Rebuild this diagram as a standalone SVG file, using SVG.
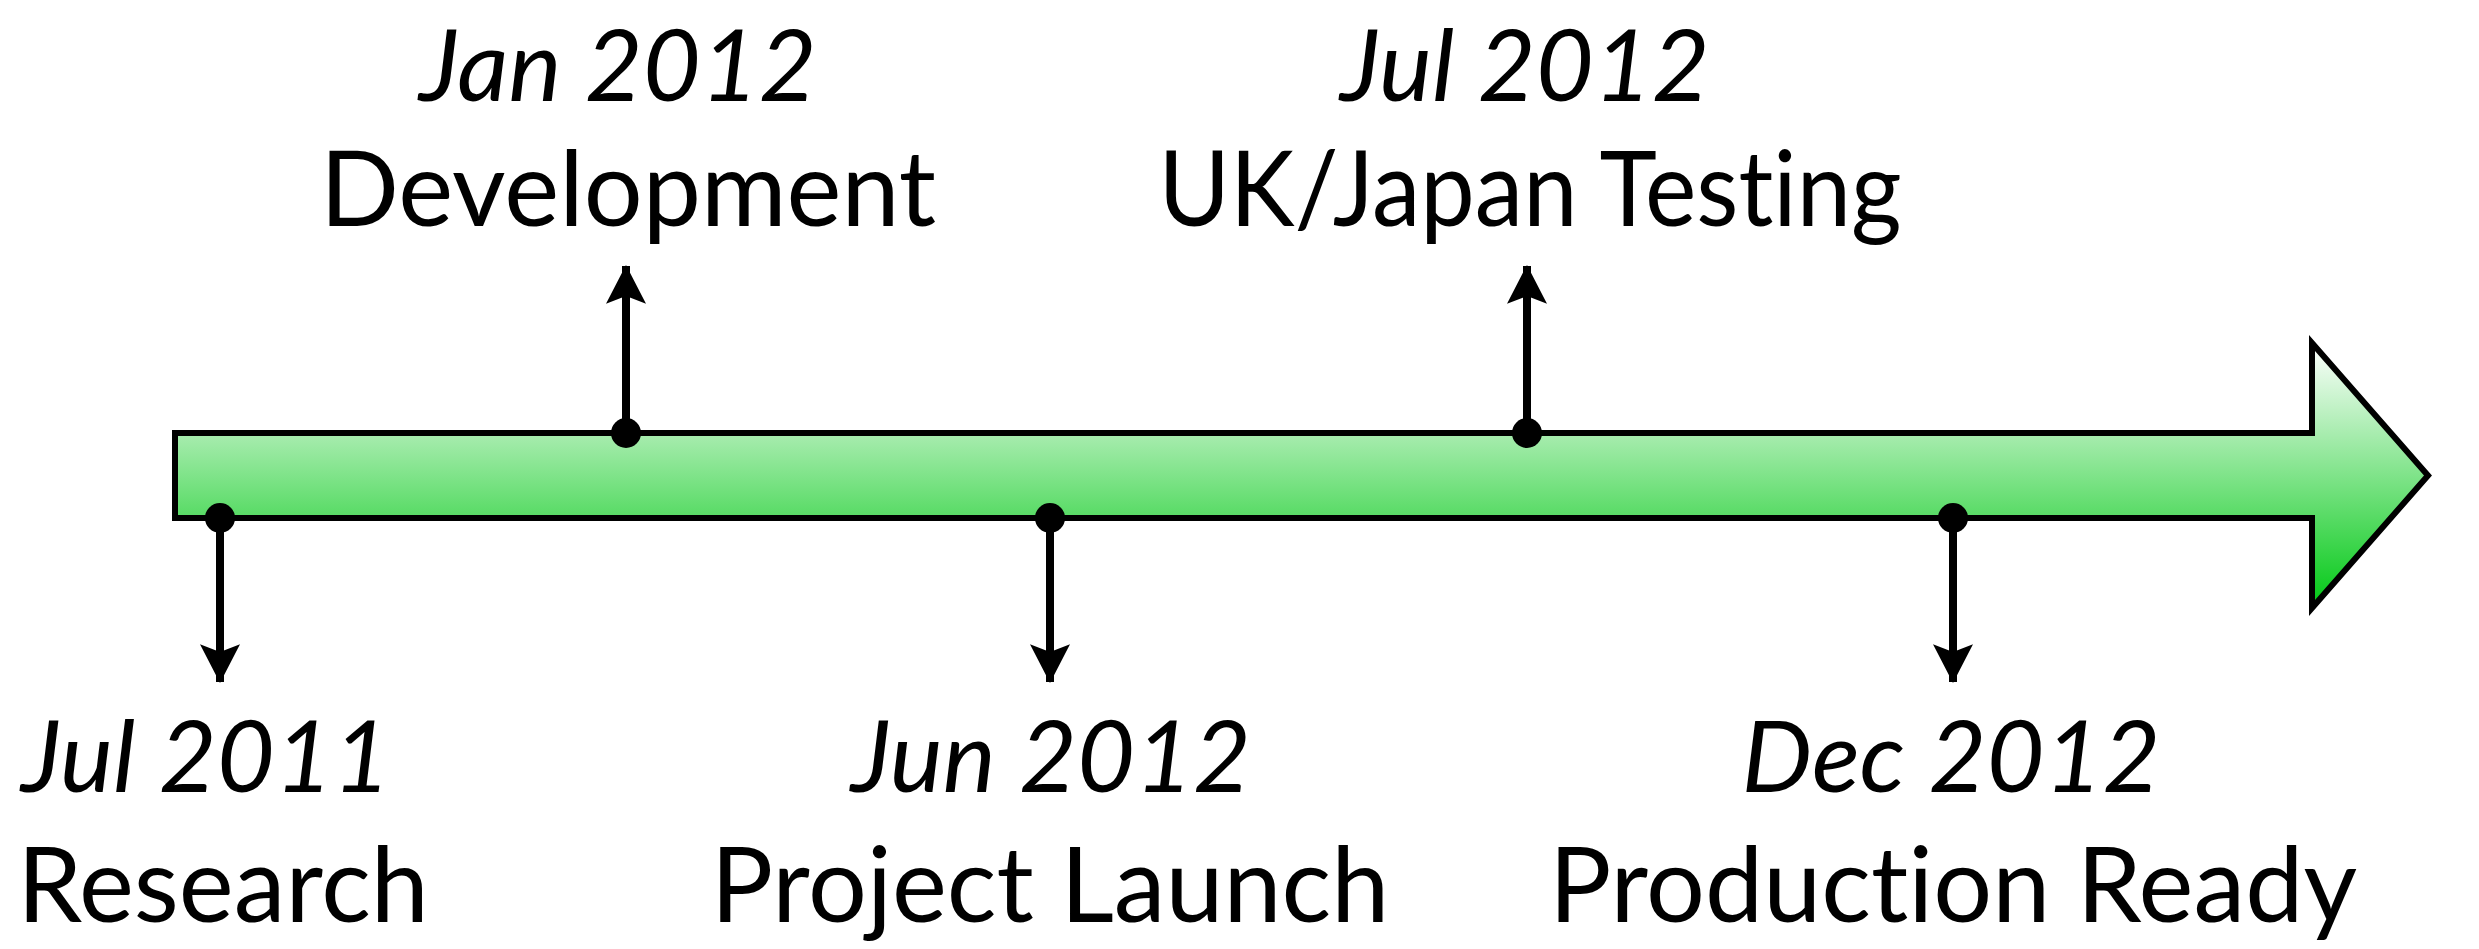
<svg xmlns="http://www.w3.org/2000/svg" width="2479" height="949" viewBox="0 0 2479 949">
<style>
.lbl{font-family:"Lato","Noto Sans","Liberation Sans",sans-serif;font-size:104px;fill:#000;text-anchor:middle;font-variant-ligatures:none}
.date{font-style:italic;font-size:100px}
.conn{stroke:#000;stroke-width:8;fill:none}
.dot{fill:#000}
</style>
<defs>
<linearGradient id="g" x1="0" y1="0" x2="0" y2="1">
<stop offset="0" stop-color="#ffffff"/>
<stop offset="1" stop-color="#00c814"/>
</linearGradient>
<marker id="ah" markerUnits="userSpaceOnUse" markerWidth="40" markerHeight="40" viewBox="0 0 36 36" refX="34" refY="18" orient="auto">
<path d="M0,0 L35,18 L0,36 L7,18 Z" fill="#000"/>
</marker>
</defs>
<g id="timeline">
<path d="M175,433 H2312 V343 L2428,475.5 L2312,608 V518 H175 Z" fill="url(#g)" stroke="#000" stroke-width="6" stroke-linejoin="miter"/>
</g>
<g id="connectors">
<line class="conn" x1="220" y1="518" x2="220" y2="682" marker-end="url(#ah)"/>
<line class="conn" x1="626" y1="433" x2="626" y2="266" marker-end="url(#ah)"/>
<line class="conn" x1="1050" y1="518" x2="1050" y2="682" marker-end="url(#ah)"/>
<line class="conn" x1="1527" y1="433" x2="1527" y2="266" marker-end="url(#ah)"/>
<line class="conn" x1="1953" y1="518" x2="1953" y2="682" marker-end="url(#ah)"/>
<circle class="dot" cx="220" cy="518" r="15"/>
<circle class="dot" cx="626" cy="433" r="15"/>
<circle class="dot" cx="1050" cy="518" r="15"/>
<circle class="dot" cx="1527" cy="433" r="15"/>
<circle class="dot" cx="1953" cy="518" r="15"/>
</g>
<g id="research">
<text class="lbl date" x="206" y="792">Jul 2011</text>
<text class="lbl" x="223" y="922">Research</text>
</g>
<g id="development">
<text class="lbl date" x="618" y="101">Jan 2012</text>
<text class="lbl" x="628" y="226">Development</text>
</g>
<g id="launch">
<text class="lbl date" x="1051" y="792">Jun 2012</text>
<text class="lbl" x="1050" y="922">Project Launch</text>
</g>
<g id="testing">
<text class="lbl date" x="1525" y="101">Jul 2012</text>
<text class="lbl" x="1530" y="226" textLength="743" lengthAdjust="spacingAndGlyphs">UK/Japan Testing</text>
</g>
<g id="production">
<text class="lbl date" x="1951" y="792">Dec 2012</text>
<text class="lbl" x="1953" y="922">Production Ready</text>
</g>
</svg>
